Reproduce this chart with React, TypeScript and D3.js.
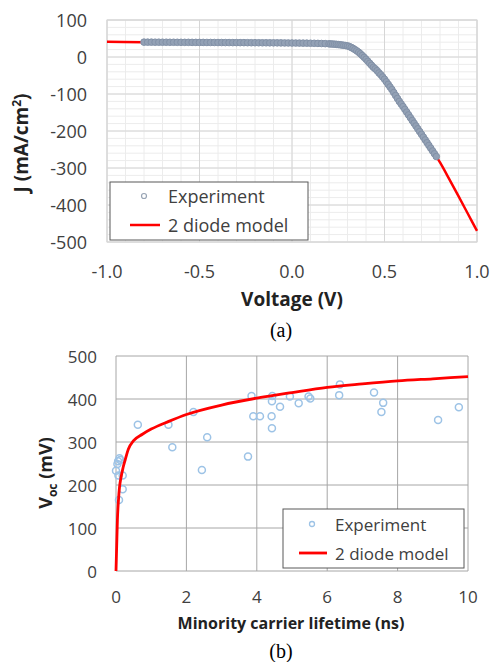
import React from "react";
import * as d3 from "d3";

// ---------- Chart (a) data ----------
const expV = [-0.80,-0.78,-0.76,-0.74,-0.72,-0.70,-0.68,-0.66,-0.64,-0.62,-0.60,-0.58,-0.56,-0.54,-0.52,-0.50,-0.48,-0.46,-0.44,-0.42,-0.40,-0.38,-0.36,-0.34,-0.32,-0.30,-0.28,-0.26,-0.24,-0.22,-0.20,-0.18,-0.16,-0.14,-0.12,-0.10,-0.08,-0.06,-0.04,-0.02,0.00,0.02,0.04,0.06,0.08,0.10,0.12,0.14,0.16,0.18,0.20,
  0.21,0.22,0.23,0.24,0.25,0.26,0.27,0.28,0.29,0.30,0.31,0.32,0.33,0.34,0.35,0.36,0.37,0.38,0.39,0.40,0.41,0.42,0.43,0.44,0.45,0.46,0.47,0.48,0.49,0.50,0.51,0.52,0.53,0.54,0.55,0.56,0.57,0.58,0.59,0.60,0.61,0.62,0.63,0.64,0.65,0.66,0.67,0.68,0.69,0.70,0.71,0.72,0.73,0.74,0.75,0.76,0.77,0.78];
const expJ = [40.2,40.1,40.1,40.0,40.0,39.9,39.9,39.8,39.8,39.7,39.7,39.6,39.6,39.5,39.5,39.4,39.4,39.3,39.3,39.2,39.1,39.1,39.0,39.0,38.9,38.9,38.8,38.8,38.7,38.6,38.6,38.5,38.4,38.4,38.3,38.2,38.2,38.1,38.0,37.9,37.8,37.7,37.6,37.5,37.4,37.2,37.0,36.8,36.5,36.1,35.6,
  35.3,35.0,34.6,34.2,33.6,33.0,32.4,31.6,30.9,30.0,28.2,26.0,23.2,20.0,16.7,13.0,8.7,4.0,-1.0,-6.0,-11.5,-17,-22.5,-28,-32,-37,-43,-48,-54,-60,-67,-74,-81,-88,-96,-104,-112,-120,-127,-134,-141.5,-149,-156.5,-164,-171.5,-179,-186.5,-194,-201.5,-209,-216.5,-224,-231.5,-239,-246.5,-254,-261.5,-269];
const modelV = [-1.0,-0.8,-0.6,-0.4,-0.2,0,0.1,0.2,0.25,0.3,0.35,0.4,0.45,0.5,0.55,0.6,0.65,0.7,0.75,0.8,0.85,0.9,0.95,1.0];
const modelJ = [41,40.2,39.7,39.1,38.6,37.8,37.2,35.6,33.6,30,16.7,-6,-32,-60,-96,-134,-171,-209,-246,-285,-330,-376,-423,-470];
const aXTicks = [-1.0,-0.5,0.0,0.5,1.0];
const aYTicks = [100,0,-100,-200,-300,-400,-500];

// ---------- Chart (b) data ----------
const tauExp = [0.0,0.04,0.06,0.10,0.12,0.07,0.19,0.19,0.085,0.62,1.49,1.60,2.20,2.44,2.59,3.75,3.85,3.90,4.09,4.42,4.43,4.44,4.43,4.66,4.94,5.19,5.47,5.52,6.34,6.36,7.33,7.54,7.59,9.15,9.74];
const vocExp = [233,249,255,262,258,222,222,190,165,340,340,288,370,235,311,266,407,360,360,360,332,407,395,382,406,390,406,401,409,434,415,370,391,351,381];
const tauModel = [0,0.01,0.02,0.04,0.07,0.1,0.13,0.2,0.26,0.35,0.5,0.75,1,1.5,2,3,4,5,6,7,8,9,10];
const vocModel = [0,30,60,119,165,195,212,240,258,283,303,318,330,348,364,386,402,415,427,435,442,447,452];
const bXTicks = [0,2,4,6,8,10];
const bYTicks = [0,100,200,300,400,500];

const FONT = "'Open Sans', sans-serif";

function ChartA() {
  const x = d3.scaleLinear().domain([-1, 1]).range([107, 477]);
  const y = d3.scaleLinear().domain([-500, 100]).range([242, 20]);
  const minorX = d3.range(-10, 11).map((i) => i / 10);
  const minorY = d3.range(-500, 101, 20);
  const line = d3.line<number>().x((_, i) => x(modelV[i])).y((_, i) => y(modelJ[i])).curve(d3.curveMonotoneX);
  return (
    <g>
      {minorX.map((v) => (
        <line key={"mx" + v} x1={x(v)} x2={x(v)} y1={y(100)} y2={y(-500)} stroke="#ececec" strokeWidth={1} />
      ))}
      {minorY.map((v) => (
        <line key={"my" + v} x1={x(-1)} x2={x(1)} y1={y(v)} y2={y(v)} stroke="#ececec" strokeWidth={1} />
      ))}
      {aXTicks.map((v) => (
        <line key={"gx" + v} x1={x(v)} x2={x(v)} y1={y(100)} y2={y(-500)} stroke="#d6d6d6" strokeWidth={1} />
      ))}
      {aYTicks.map((v) => (
        <line key={"gy" + v} x1={x(-1)} x2={x(1)} y1={y(v)} y2={y(v)} stroke="#d6d6d6" strokeWidth={1} />
      ))}
      <rect x={x(-1)} y={y(100)} width={x(1) - x(-1)} height={y(-500) - y(100)} fill="none" stroke="#d6d6d6" />
      <path d={line(modelV) || ""} fill="none" stroke="#ff0000" strokeWidth={2.5} />
      {expV.map((v, i) => (
        <circle key={"e" + i} cx={x(v)} cy={y(expJ[i])} r={3.3} fill="#93a1b5" stroke="#8291a7" strokeWidth={1} />
      ))}
      {aYTicks.map((v) => (
        <text key={"ty" + v} x={87} y={y(v)} textAnchor="end" dominantBaseline="central" fontSize={18} fill="#404040" fontFamily={FONT}>{v}</text>
      ))}
      {aXTicks.map((v) => (
        <text key={"tx" + v} x={x(v)} y={278} textAnchor="middle" fontSize={18} fill="#404040" fontFamily={FONT}>{v.toFixed(1)}</text>
      ))}
      <text x={292} y={306} textAnchor="middle" fontSize={19} fontWeight="bold" fill="#222" fontFamily={FONT}>Voltage (V)</text>
      <text transform="translate(28,143) rotate(-90)" textAnchor="middle" fontSize={19} fontWeight="bold" fill="#222" fontFamily={FONT}>
        J (mA/cm<tspan dy={-7} fontSize={12}>2</tspan><tspan dy={7}>)</tspan>
      </text>
      <rect x={110} y={182} width={198} height={58} fill="#fff" stroke="#595959" strokeWidth={1} />
      <circle cx={144} cy={196} r={2.5} fill="none" stroke="#98a4b4" strokeWidth={1.2} />
      <text x={168} y={196} dominantBaseline="central" fontSize={18} fill="#404040" fontFamily={FONT}>Experiment</text>
      <line x1={130} x2={160} y1={225} y2={225} stroke="#ff0000" strokeWidth={2.5} />
      <text x={168} y={225} dominantBaseline="central" fontSize={18} fill="#404040" fontFamily={FONT}>2 diode model</text>
      <text x={281} y={337} textAnchor="middle" fontSize={20} fill="#000" fontFamily="'Liberation Serif', 'DejaVu Serif', serif">(a)</text>
    </g>
  );
}

function ChartB() {
  const x = d3.scaleLinear().domain([0, 10]).range([116, 468]);
  const y = d3.scaleLinear().domain([0, 500]).range([571, 356]);
  const line = d3.line<number>().x((_, i) => x(tauModel[i])).y((_, i) => y(vocModel[i])).curve(d3.curveMonotoneX);
  return (
    <g>
      {bXTicks.map((v) => (
        <line key={"gx" + v} x1={x(v)} x2={x(v)} y1={y(0)} y2={y(500)} stroke="#a6a6a6" strokeWidth={1} />
      ))}
      {bYTicks.map((v) => (
        <line key={"gy" + v} x1={x(0)} x2={x(10)} y1={y(v)} y2={y(v)} stroke="#a6a6a6" strokeWidth={1} />
      ))}
      {tauExp.map((t, i) => (
        <circle key={"p" + i} cx={x(t)} cy={y(vocExp[i])} r={3.5} fill="none" stroke="#9dc3e6" strokeWidth={1.5} />
      ))}
      <path d={line(tauModel) || ""} fill="none" stroke="#ff0000" strokeWidth={2.8} />
      {bYTicks.map((v) => (
        <text key={"ty" + v} x={97} y={y(v)} textAnchor="end" dominantBaseline="central" fontSize={17} fill="#404040" fontFamily={FONT}>{v}</text>
      ))}
      {bXTicks.map((v) => (
        <text key={"tx" + v} x={x(v)} y={603} textAnchor="middle" fontSize={17} fill="#404040" fontFamily={FONT}>{v}</text>
      ))}
      <text x={291} y={629} textAnchor="middle" fontSize={16} fontWeight="bold" fill="#222" fontFamily={FONT}>Minority carrier lifetime (ns)</text>
      <text transform="translate(52,473) rotate(-90)" textAnchor="middle" fontSize={18} fontWeight="bold" fill="#222" fontFamily={FONT}>
        V<tspan dy={5} fontSize={12}>oc</tspan><tspan dy={-5}> (mV)</tspan>
      </text>
      <rect x={283} y={509} width={181} height={59} fill="#fff" stroke="#595959" strokeWidth={1} />
      <circle cx={312} cy={524} r={2.5} fill="none" stroke="#9dc3e6" strokeWidth={1.3} />
      <text x={335} y={524} dominantBaseline="central" fontSize={17} fill="#404040" fontFamily={FONT}>Experiment</text>
      <line x1={299} x2={327} y1={553} y2={553} stroke="#ff0000" strokeWidth={2.8} />
      <text x={335} y={553} dominantBaseline="central" fontSize={17} fill="#404040" fontFamily={FONT}>2 diode model</text>
      <text x={281} y={658} textAnchor="middle" fontSize={20} fill="#000" fontFamily="'Liberation Serif', 'DejaVu Serif', serif">(b)</text>
    </g>
  );
}

export default function App() {
  return (
    <svg width={492} height={662} style={{ position: "absolute", left: 0, top: 0, background: "#fff" }}>
      <rect width={492} height={662} fill="#fff" />
      <ChartA />
      <ChartB />
    </svg>
  );
}
